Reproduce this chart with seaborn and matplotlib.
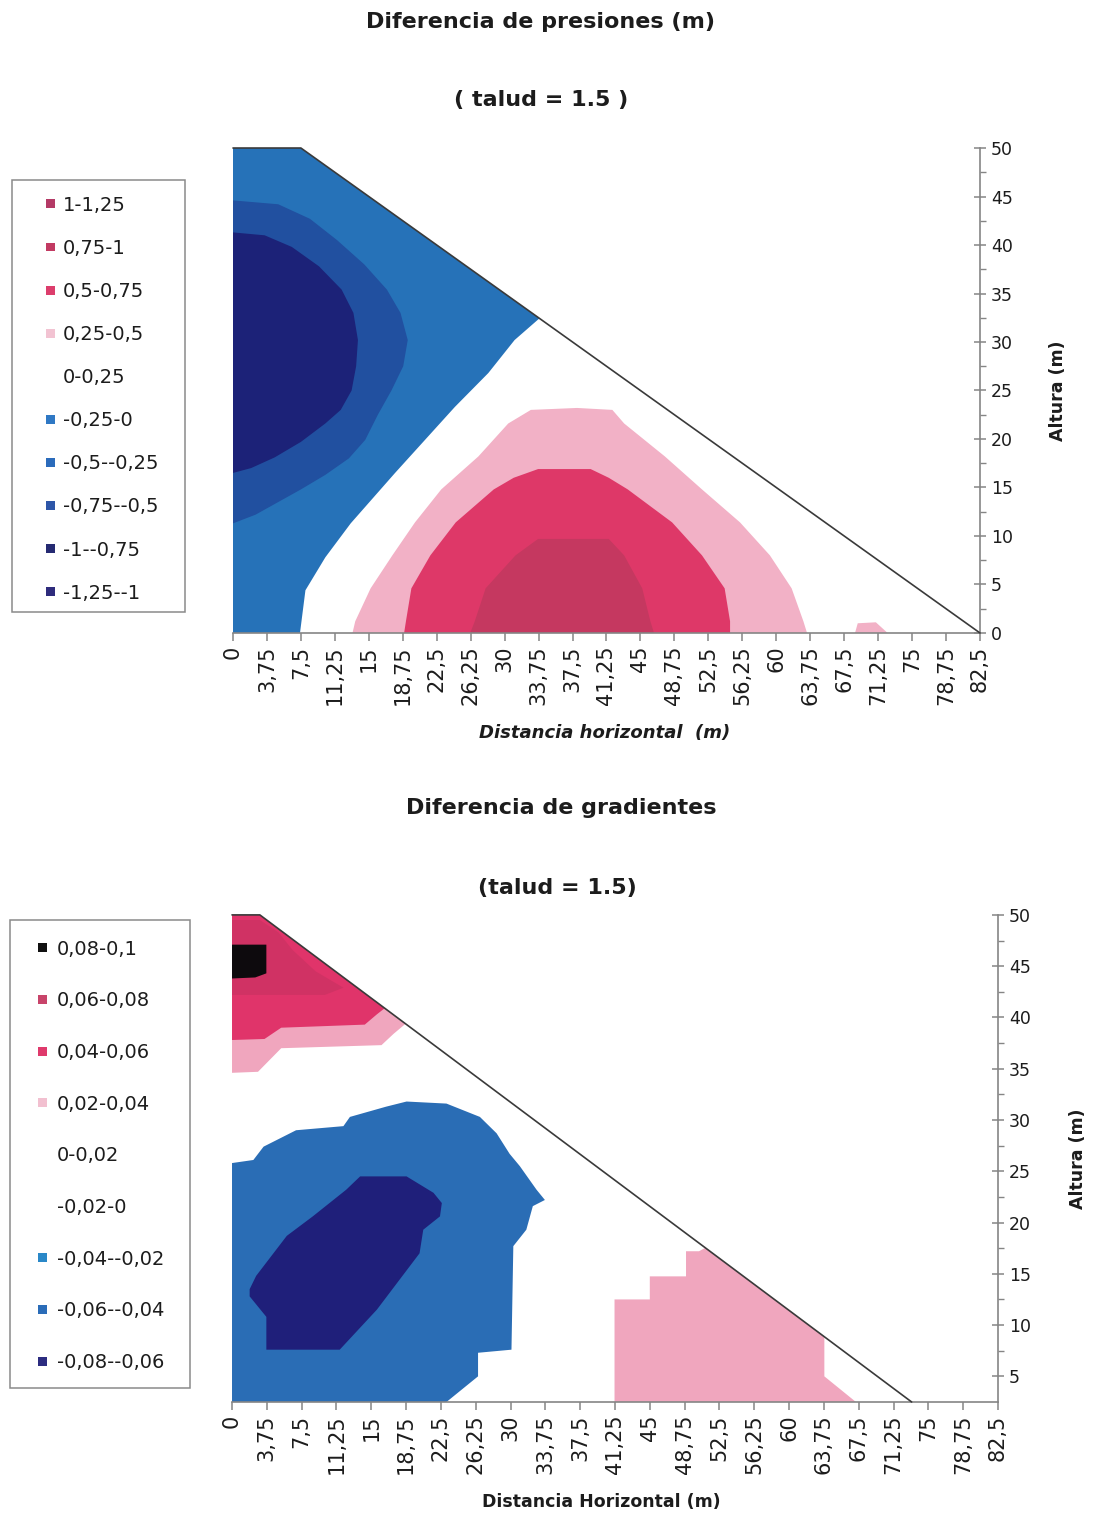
import matplotlib
matplotlib.use("Agg")
import matplotlib.pyplot as plt
from matplotlib.patches import Polygon, Patch, Rectangle
from matplotlib.legend_handler import HandlerPatch
import seaborn as sns

# ---------------- data ----------------
x_tick_values = [0, 3.75, 7.5, 11.25, 15, 18.75, 22.5, 26.25, 30, 33.75, 37.5,
                 41.25, 45, 48.75, 52.5, 56.25, 60, 63.75, 67.5, 71.25, 75, 78.75, 82.5]

# dam cross-section (crest + downstream face), one per chart
dam_pres_x = [0, 0, 7.5, 82.5]
dam_pres_y = [0, 50, 50, 0]
dam_grad_x = [0, 0, 3.0, 73.2]
dam_grad_y = [2.5, 50, 50, 2.5]
face_pres_x = [0, 7.5, 82.5]
face_pres_y = [50, 50, 0]
face_grad_x = [0, 3.0, 73.2]
face_grad_y = [50, 50, 2.5]

# pressure difference: contour outlines (x, y) for each filled band
pres_neg_0 = [(0, 0), (7.4, 0), (8.0, 4.4), (10.2, 7.8), (13.0, 11.3), (17.9, 16.5),
              (21.2, 19.9), (24.5, 23.3), (28.2, 26.8), (31.1, 30.2), (33.8, 32.4),
              (38, 36), (38, 52), (0, 52)]
pres_neg_050 = [(0, 44.6), (5, 44.2), (8.5, 42.7), (11.5, 40.5), (14.5, 38), (17, 35.4),
                (18.5, 33), (19.3, 30.2), (18.8, 27.5), (17.5, 25), (16, 22.5), (14.6, 19.9),
                (12.8, 18), (10.2, 16.3), (7.5, 14.8), (5, 13.5), (2.5, 12.2), (0, 11.3)]
pres_neg_075 = [(0, 41.3), (3.5, 41), (6.5, 39.8), (9.5, 37.8), (12, 35.4), (13.3, 33),
                (13.8, 30.2), (13.6, 27.5), (13.1, 25), (11.9, 23), (10.2, 21.6), (7.5, 19.7),
                (4.6, 18.1), (2, 17), (0, 16.5)]
pres_pos_025 = [(13.2, 0), (13.5, 1.2), (15.2, 4.6), (17.6, 8), (20.1, 11.4), (23, 14.8),
                (27.1, 18.2), (30.4, 21.6), (32.9, 23), (38, 23.2), (41.9, 23), (43.2, 21.6),
                (47.7, 18.2), (51.8, 14.8), (56, 11.4), (59.3, 8), (61.7, 4.6), (63, 1.2),
                (63.4, 0)]
pres_pos_025_toe = [(68.7, 0), (69.0, 1.0), (71.0, 1.1), (72.3, 0)]
pres_pos_050 = [(18.9, 0), (19.1, 1.2), (19.7, 4.6), (21.8, 8), (24.6, 11.4), (28.8, 14.8),
                (31, 16), (33.7, 16.9), (39.5, 16.9), (41.5, 16), (43.6, 14.8), (48.5, 11.4),
                (51.8, 8), (54.3, 4.6), (54.9, 1.2), (54.9, 0)]
pres_pos_075 = [(26.2, 0), (26.7, 1.2), (27.9, 4.6), (31.2, 8), (33.7, 9.7), (41.5, 9.7),
                (43.2, 8), (45.2, 4.6), (46.1, 1.2), (46.5, 0)]

# gradient difference: contour outlines (x, y)
grad_pos_002 = [(0, 34.6), (2.8, 34.7), (5.3, 37), (16.1, 37.3), (17.4, 38.4),
                (19.5, 40), (19.5, 52), (0, 52)]
grad_pos_004 = [(0, 37.8), (3.5, 37.9), (5.3, 39), (14.3, 39.3), (15.6, 40.3),
                (18, 42), (18, 52), (0, 52)]
grad_pos_006 = [(0, 42.2), (10, 42.2), (12, 42.9), (9, 44.5), (6.5, 46.6), (5, 48.3),
                (3, 49.5), (0, 49.5)]
grad_pos_008 = [(0, 43.8), (2.5, 43.9), (3.7, 44.3), (3.7, 47.1), (0, 47.1)]
grad_neg_004 = [(0, 25.8), (2.3, 26.1), (3.4, 27.4), (6.9, 29), (12, 29.4), (12.7, 30.3),
                (16.6, 31.3), (18.8, 31.8), (23.1, 31.6), (26.7, 30.3), (28.5, 28.7),
                (29.9, 26.7), (31, 25.5), (32.8, 23.2), (33.7, 22.2), (32.4, 21.6),
                (31.7, 19.3), (30.3, 17.7), (30.1, 7.6), (26.5, 7.3), (26.5, 5),
                (23.1, 2.5), (0, 2.5)]
grad_neg_006 = [(1.9, 13.5), (2.6, 14.8), (5.9, 18.7), (8.7, 20.6), (12.3, 23.2),
                (13.8, 24.5), (18.8, 24.5), (21.7, 22.9), (22.6, 21.9), (22.4, 20.6),
                (20.6, 19.3), (20.2, 17), (15.6, 11.5), (11.6, 7.6), (3.7, 7.6),
                (3.7, 10.8), (1.9, 12.8)]
grad_pos_002_toe = [(41.2, 2.5), (41.2, 12.5), (45, 12.5), (45, 14.75), (48.9, 14.75),
                    (48.9, 17.2), (50.3, 17.2), (54, 19), (66, 11), (63.8, 9.0),
                    (63.8, 5.0), (67.2, 2.5)]

# legend classes
pres_labels = ["1-1,25", "0,75-1", "0,5-0,75", "0,25-0,5", "0-0,25", "-0,25-0",
               "-0,5--0,25", "-0,75--0,5", "-1--0,75", "-1,25--1"]
pres_colors = ["#b43a66", "#c23a62", "#dc3d6c", "#f2c3d2", None, "#2f78c4",
               "#2b6bbb", "#2d56a8", "#252a72", "#2e2b7c"]
grad_labels = ["0,08-0,1", "0,06-0,08", "0,04-0,06", "0,02-0,04", "0-0,02", "-0,02-0",
               "-0,04--0,02", "-0,06--0,04", "-0,08--0,06"]
grad_colors = ["#111111", "#c8446a", "#df3a6c", "#f2c0d0", None, None,
               "#2a88c8", "#2a6cb8", "#2c2c80"]

# ---------------- style ----------------
sns.set_theme(style="white")
plt.rcParams["font.family"] = ["DejaVu Sans"]
TXT = "#1c1c1c"
AX = "#858585"

fig = plt.figure(figsize=(10.98, 15.15), dpi=100)
ax1 = fig.add_axes([0.2122, 0.5822, 0.6803, 0.3201])
ax2 = fig.add_axes([0.2113, 0.0746, 0.6976, 0.3215])


def fill_band(ax, pts, color, clip):
    xs, ys = zip(*pts)
    for art in ax.fill(xs, ys, color=color, lw=0, zorder=2):
        art.set_clip_path(clip)


def dam_clip(ax, xs, ys):
    return Polygon(list(zip(xs, ys)), closed=True, transform=ax.transData)


def style_axes(ax, ymin, yticks, yminor, xlabel, xlabel_style, xlabel_size, xlabel_pos):
    ax.set_xlim(0, 82.5)
    ax.set_ylim(ymin, 50)
    ax.set_xticks(x_tick_values)
    ax.set_xticklabels([f"{v:g}".replace(".", ",") for v in x_tick_values],
                       rotation=90, fontsize=15, color=TXT, va="top", ha="center")
    ax.yaxis.tick_right()
    ax.yaxis.set_label_position("right")
    ax.set_yticks(yticks)
    ax.set_yticks(yminor, minor=True)
    ax.set_yticklabels([str(v) for v in yticks], fontsize=12.5, color=TXT)
    for s in ("left", "top"):
        ax.spines[s].set_visible(False)
    for s in ("right", "bottom"):
        ax.spines[s].set_color(AX)
        ax.spines[s].set_linewidth(1.2)
    ax.tick_params(axis="x", bottom=True, direction="out", length=6, width=1.1,
                   color=AX, pad=3)
    ax.tick_params(axis="y", which="major", right=True, left=False, direction="inout",
                   length=8, width=1.1, color=AX, pad=4)
    ax.tick_params(axis="y", which="minor", right=True, left=False, direction="out",
                   length=4, width=1.0, color=AX)
    ax.set_ylabel("Altura (m)", fontsize=12.5, fontweight="bold", color=TXT, rotation=90)
    ax.yaxis.set_label_coords(1.104, 0.5)
    ax.yaxis.label.set_verticalalignment("center")
    ax.set_xlabel(xlabel, fontsize=xlabel_size, color=TXT, **xlabel_style)
    ax.xaxis.set_label_coords(*xlabel_pos)
    ax.xaxis.label.set_verticalalignment("center")
    ax.grid(False)


# ---- pressure difference chart ----
clip1 = dam_clip(ax1, dam_pres_x, dam_pres_y)
fill_band(ax1, pres_neg_0, "#2672b8", clip1)
fill_band(ax1, pres_neg_050, "#2150a0", clip1)
fill_band(ax1, pres_neg_075, "#1c2278", clip1)
fill_band(ax1, pres_pos_025, "#f2b1c6", clip1)
fill_band(ax1, pres_pos_025_toe, "#f2b1c6", clip1)
fill_band(ax1, pres_pos_050, "#de3868", clip1)
fill_band(ax1, pres_pos_075, "#c53860", clip1)
sns.lineplot(x=face_pres_x, y=face_pres_y, sort=False, estimator=None, ax=ax1,
             color="#3a3a3a", lw=1.2, zorder=3)
ax1.lines[-1].set_clip_on(False)
style_axes(ax1, 0, list(range(0, 51, 5)), [2.5 + 5 * i for i in range(10)],
           "Distancia horizontal  (m)", dict(fontweight="bold", fontstyle="italic"), 13,
           (0.498, -0.206))

# ---- gradient difference chart ----
clip2 = dam_clip(ax2, dam_grad_x, dam_grad_y)
fill_band(ax2, grad_pos_002, "#f0a6be", clip2)
fill_band(ax2, grad_pos_004, "#e0346a", clip2)
fill_band(ax2, grad_pos_006, "#d03264", clip2)
fill_band(ax2, grad_pos_008, "#0d0a0d", clip2)
fill_band(ax2, grad_neg_004, "#2a6db5", clip2)
fill_band(ax2, grad_neg_006, "#1f1f7a", clip2)
fill_band(ax2, grad_pos_002_toe, "#f0a6be", clip2)
sns.lineplot(x=face_grad_x, y=face_grad_y, sort=False, estimator=None, ax=ax2,
             color="#3a3a3a", lw=1.2, zorder=3)
ax2.lines[-1].set_clip_on(False)
style_axes(ax2, 2.5, list(range(5, 51, 5)), [7.5 + 5 * i for i in range(9)],
           "Distancia Horizontal (m)", dict(fontweight="bold"), 12.5, (0.482, -0.205))

# ---- titles ----
W, H = 1098.0, 1515.0
for txt, (px, py) in [("Diferencia de presiones (m)", (541, 22)),
                      ("( talud = 1.5 )", (541, 100)),
                      ("Diferencia de gradientes", (561, 808)),
                      ("(talud = 1.5)", (557, 888))]:
    fig.text(px / W, 1 - py / H, txt, ha="center", va="center", fontsize=16,
             fontweight="bold", color=TXT)


# ---- legends ----
def square_right(legend, orig_handle, xdescent, ydescent, width, height, fontsize):
    s = 0.46 * fontsize
    return Rectangle((-xdescent + width - s, -ydescent + (height - s) / 2), s, s)


def class_legend(labels, colors, x0, ytop, spacing, textpad, box):
    handles = [Patch(facecolor=c if c else "none", edgecolor="none") for c in colors]
    fig.legend(handles, labels, loc="upper left",
               bbox_to_anchor=(x0 / W, 1 - ytop / H), frameon=False, borderpad=0,
               borderaxespad=0, handlelength=1.2, handleheight=0.7,
               handletextpad=textpad, labelspacing=spacing, fontsize=14,
               labelcolor=TXT, handler_map={Patch: HandlerPatch(patch_func=square_right)})
    bx0, by0, bx1, by1 = box
    fig.add_artist(Rectangle((bx0 / W, 1 - by1 / H), (bx1 - bx0) / W, (by1 - by0) / H,
                             transform=fig.transFigure, fill=False,
                             edgecolor="#8a8a8a", lw=1.1))


class_legend(pres_labels, pres_colors, 31.7, 195.7, 1.24, 0.41, (12, 180, 185, 612))
class_legend(grad_labels, grad_colors, 23.7, 939.7, 1.68, 0.51, (10, 920, 190, 1388))

fig.savefig("out.png", dpi=100, facecolor="white")
